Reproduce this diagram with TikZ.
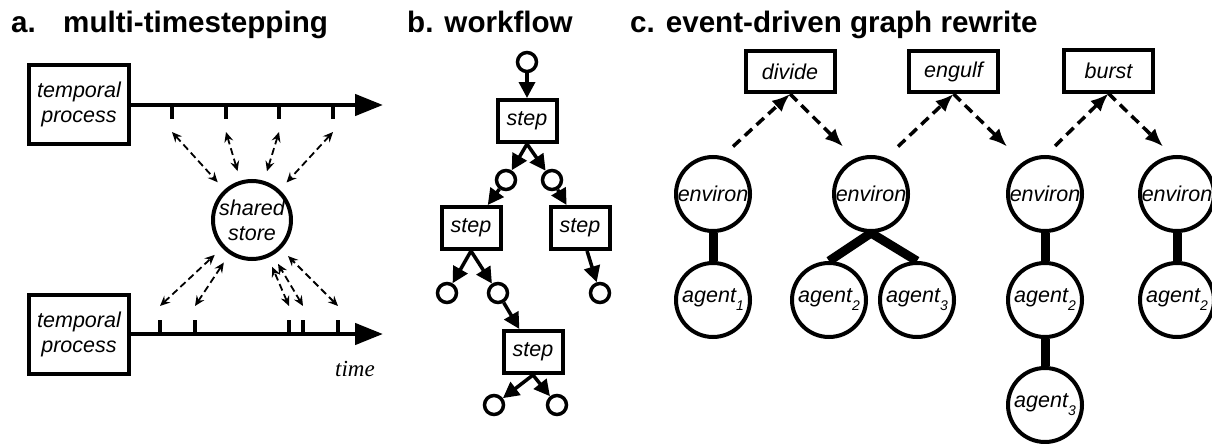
\documentclass[tikz,border=0pt]{standalone}
\usepackage{fontspec}
\setmainfont{Liberation Sans}
\newfontfamily\serifface{Liberation Serif}
\usetikzlibrary{positioning,calc,arrows.meta}

\newcommand\idx[1]{\raisebox{-8pt}{\fontsize{14}{14}\selectfont #1}}

\tikzset{
  lbl/.style={font=\fontsize{21.5}{25}\selectfont\itshape, align=center},
  heading/.style={font=\fontsize{29.6}{34}\selectfont\bfseries, anchor=base west, inner sep=0pt},
  procbox/.style={draw, line width=4pt, minimum width=100pt, minimum height=79pt, inner sep=0pt, lbl},
  store/.style={draw, circle, line width=4pt, minimum size=78pt, inner sep=0pt, lbl},
  timeline/.style={line width=4.5pt, -{Triangle[length=28pt,width=21pt]}},
  tickmark/.style={line width=4.5pt},
  sync/.style={line width=1.8pt, dash pattern=on 7pt off 4pt, shorten >=10pt,
    {Stealth[length=10pt,width=9pt,inset=3.5pt]}-{Stealth[length=10pt,width=9pt,inset=3.5pt]}},
  port/.style={draw, circle, line width=3.5pt, minimum size=19pt, inner sep=0pt},
  stepbox/.style={draw, line width=4pt, minimum width=59pt, minimum height=42pt, inner sep=0pt, lbl},
  flow/.style={line width=3.5pt, -{Triangle[length=16pt,width=16pt]}},
  event/.style={draw, line width=4pt, minimum width=89pt, minimum height=41pt, inner sep=0pt, lbl},
  cell/.style={draw, circle, line width=4pt, minimum size=74pt, inner sep=0pt, lbl},
  link/.style={line width=9pt},
  trigger/.style={line width=3.5pt, dash pattern=on 10pt off 6pt, -{Latex[length=18pt,width=15pt]}},
}

\begin{document}
\begin{tikzpicture}[x=1pt,y=-1pt]
\useasboundingbox (0,0) rectangle (1212,444);

% Panel titles
\node[heading] (ta) at (11,33) {a.};
\node[heading] (tam) at (63,33) {multi-timestepping};
\node[heading] (tb) at (407,33) {b. workflow};
\node[heading] (tc) at (630,33) {c. event-driven graph rewrite};

% a. temporal processes and the shared store
\node[procbox] (procA) at (79,104.5) {temporal\\process};
\node[procbox] (procB) at (79,334.5) {temporal\\process};
\node[store] (shared) at (252,220) {shared\\store};
\coordinate (endA) at (383,105);
\coordinate (endB) at (383,334);
\draw[timeline] (procA.east |- endA) -- (endA);
\draw[timeline] (procB.east |- endB) -- (endB);

% ticks and updates
\foreach \x [count=\i] in {172,226,279,333} {
  \draw[tickmark] (\x,105) -- (\x,119);
  \coordinate (ua\i) at (\x,132);
  \draw[sync] (ua\i) -- (shared);
}
\foreach \x [count=\i] in {160,195,289,303,338} {
  \draw[tickmark] (\x,334) -- (\x,320);
  \coordinate (ub\i) at (\x,306);
  \draw[sync] (ub\i) -- (shared);
}
\node[font=\serifface\itshape\fontsize{23}{23}\selectfont] (timelbl) at (355,369) {time};

% b. workflow of steps
\node[port] (in) at (527,62) {};
\node[stepbox] (stepA) at (527,121) {step};
\node[port] (outA1) at (506,180) {};
\node[port] (outA2) at (552,180) {};
\node[stepbox] (stepB) at (471,228) {step};
\node[stepbox] (stepC) at (580,228) {step};
\node[port] (outB1) at (447,293) {};
\node[port] (outB2) at (498,293) {};
\node[port] (outC1) at (600,293) {};
\node[stepbox] (stepD) at (533,352) {step};
\node[port] (outD1) at (494,405) {};
\node[port] (outD2) at (557,405) {};

\draw[flow] (in) -- (stepA);
\draw[flow] (stepA.south) -- (outA1);
\draw[flow] (stepA.south) -- (outA2);
\draw[flow] (outA1) -- (stepB);
\draw[flow] (outA2) -- (stepC);
\draw[flow] (stepB.south) -- (outB1);
\draw[flow] (stepB.south) -- (outB2);
\draw[flow] (stepC) -- (outC1);
\draw[flow] (outB2) -- (stepD);
\draw[flow] (stepD.south) -- (outD1);
\draw[flow] (stepD.south) -- (outD2);

% c. events rewriting the graph
\node[event] (divide) at (790,71.5) {divide};
\node[event] (engulf) at (953.5,71.5) {engulf};
\node[event] (burst) at (1108.5,71) {burst};

\node[cell] (envA) at (713,194) {environ};
\node[cell] (agA1) at (713,300) {agent\idx{1}};
\node[cell] (envB) at (871,194) {environ};
\node[cell] (agB2) at (829,300) {agent\idx{2}};
\node[cell] (agB3) at (917,300) {agent\idx{3}};
\node[cell] (envC) at (1045,194) {environ};
\node[cell] (agC2) at (1045,300) {agent\idx{2}};
\node[cell] (agC3) at (1045,405) {agent\idx{3}};
\node[cell] (envD) at (1177,194) {environ};
\node[cell] (agD2) at (1177,300) {agent\idx{2}};

\draw[link] (envA) -- (agA1);
\draw[link] (envB.south) -- (agB2.north);
\draw[link] (envB.south) -- (agB3.north);
\draw[link] (envC) -- (agC2);
\draw[link] (agC2) -- (agC3);
\draw[link] (envD) -- (agD2);

% triggers
\draw[trigger] ($(envA.north)+(20,-8.5)$) -- (divide.south);
\draw[trigger] (divide.south) -- ($(envB.north)+(-28,-8.5)$);
\draw[trigger] ($(envB.north)+(27,-8.5)$) -- (engulf.south);
\draw[trigger] (engulf.south) -- ($(envC.north)+(-38,-8.5)$);
\draw[trigger] ($(envC.north)+(10,-9)$) -- (burst.south);
\draw[trigger] (burst.south) -- ($(envD.north)+(-14,-8.5)$);

\end{tikzpicture}
\end{document}
